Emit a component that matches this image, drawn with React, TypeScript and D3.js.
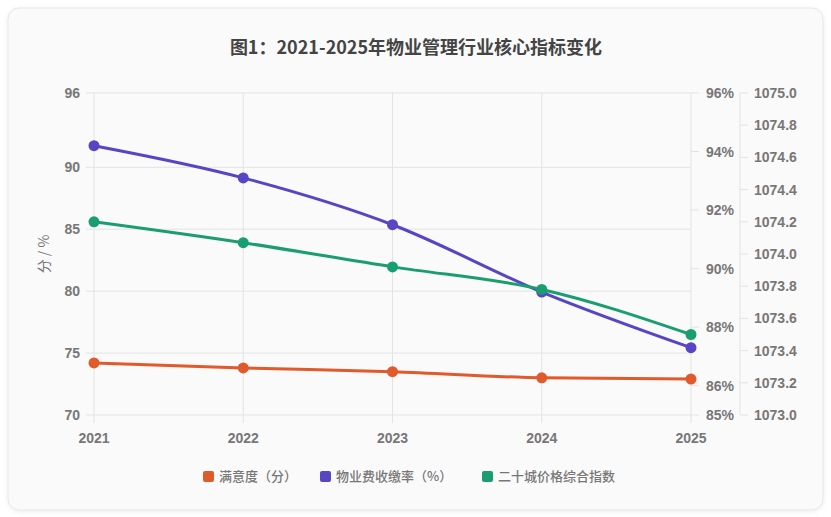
import React, { useRef, useEffect } from "react";
import * as d3 from "d3";

const years = ["2021", "2022", "2023", "2024", "2025"];
const satisfaction = [74.2, 73.8, 73.5, 73.0, 72.9];
const collectionRate = [94.2, 93.1, 91.5, 89.2, 87.3];
const priceIndex = [1074.2, 1074.07, 1073.92, 1073.78, 1073.5];

const leftTicks = [70, 75, 80, 85, 90, 96];
const pctTicks = [85, 86, 88, 90, 92, 94, 96];
const idxTicks = [1073.0, 1073.2, 1073.4, 1073.6, 1073.8, 1074.0, 1074.2, 1074.4, 1074.6, 1074.8, 1075.0];

const seriesNames = ["满意度（分）", "物业费收缴率（%）", "二十城价格综合指数"];
const seriesColors = ["#e05a2b", "#5645c4", "#1a9e70"];

const W = 831;
const H = 517;
const FONT = "'Noto Sans CJK SC', 'Liberation Sans', Arial, sans-serif";
const NUM_FONT = "'Liberation Sans', Arial, sans-serif";

export default function App() {
  const svgRef = useRef<SVGSVGElement>(null);

  useEffect(() => {
    if (!svgRef.current) return;
    const svg = d3.select(svgRef.current);
    svg.selectAll("*").remove();

    const left = 94;
    const right = 691;
    const top = 93;
    const bottom = 415;
    const axis3X = 740;

    const x = d3.scalePoint<string>().domain(years).range([left, right]);
    const yL = d3.scaleLinear().domain([70, 96]).range([bottom, top]);
    const yP = d3.scaleLinear().domain([85, 96]).range([bottom, top]);
    const yI = d3.scaleLinear().domain([1073, 1075]).range([bottom, top]);

    // card
    const defs = svg.append("defs");
    const f = defs.append("filter").attr("id", "sh").attr("x", "-5%").attr("y", "-5%").attr("width", "110%").attr("height", "110%");
    f.append("feDropShadow").attr("dx", 0).attr("dy", 1).attr("stdDeviation", 2).attr("flood-color", "#000").attr("flood-opacity", 0.08);
    svg.append("rect")
      .attr("x", 8).attr("y", 8).attr("width", 815).attr("height", 502)
      .attr("rx", 11)
      .attr("fill", "#fafafa")
      .attr("stroke", "#e6e6e6")
      .attr("filter", "url(#sh)");

    svg.append("text")
      .attr("x", 416).attr("y", 54)
      .attr("text-anchor", "middle")
      .attr("font-family", FONT)
      .attr("font-size", 18)
      .attr("font-weight", 700)
      .attr("fill", "#444")
      .text("图1：2021-2025年物业管理行业核心指标变化");

    const grid = "#e3e3e3";
    const g = svg.append("g");

    // horizontal grid (left axis)
    g.selectAll(".hg").data(leftTicks).enter().append("line")
      .attr("x1", left - 8).attr("x2", right)
      .attr("y1", (d) => yL(d)).attr("y2", (d) => yL(d))
      .attr("stroke", grid).attr("stroke-width", 1);

    // vertical grid
    g.selectAll(".vg").data(years).enter().append("line")
      .attr("x1", (d) => x(d)!).attr("x2", (d) => x(d)!)
      .attr("y1", top).attr("y2", bottom + 8)
      .attr("stroke", grid).attr("stroke-width", 1);

    const tickColor = "#777";
    const tickFont = 14;

    g.selectAll(".lt").data(leftTicks).enter().append("text")
      .attr("x", left - 14).attr("y", (d) => yL(d) + 5)
      .attr("text-anchor", "end")
      .attr("font-family", NUM_FONT).attr("font-size", tickFont).attr("font-weight", 600).attr("fill", tickColor)
      .text((d) => d);

    g.selectAll(".xt").data(years).enter().append("text")
      .attr("x", (d) => x(d)!).attr("y", bottom + 28)
      .attr("text-anchor", "middle")
      .attr("font-family", NUM_FONT).attr("font-size", tickFont).attr("font-weight", 600).attr("fill", tickColor)
      .text((d) => d);

    svg.append("text")
      .attr("transform", `translate(49,254) rotate(-90)`)
      .attr("text-anchor", "middle")
      .attr("font-family", FONT).attr("font-size", 14).attr("fill", tickColor)
      .text("分 / %");

    // right axis (%)
    g.selectAll(".pt").data(pctTicks).enter().append("line")
      .attr("x1", right).attr("x2", right + 8)
      .attr("y1", (d) => yP(d)).attr("y2", (d) => yP(d))
      .attr("stroke", grid);
    g.selectAll(".ptl").data(pctTicks).enter().append("text")
      .attr("x", right + 15).attr("y", (d) => yP(d) + 5)
      .attr("font-family", NUM_FONT).attr("font-size", tickFont).attr("font-weight", 600).attr("fill", tickColor)
      .text((d) => `${d}%`);

    // third axis (index)
    g.append("line")
      .attr("x1", axis3X).attr("x2", axis3X).attr("y1", top).attr("y2", bottom)
      .attr("stroke", grid);
    g.selectAll(".it").data(idxTicks).enter().append("line")
      .attr("x1", axis3X).attr("x2", axis3X + 8)
      .attr("y1", (d) => yI(d)).attr("y2", (d) => yI(d))
      .attr("stroke", grid);
    g.selectAll(".itl").data(idxTicks).enter().append("text")
      .attr("x", axis3X + 14).attr("y", (d) => yI(d) + 5)
      .attr("font-family", NUM_FONT).attr("font-size", tickFont).attr("font-weight", 600).attr("fill", tickColor)
      .text((d) => d.toFixed(1));

    const series = [
      { values: satisfaction, y: yL },
      { values: collectionRate, y: yP },
      { values: priceIndex, y: yI },
    ];

    series.forEach((s, si) => {
      const line = d3.line<number>()
        .x((_, i) => x(years[i])!)
        .y((d) => s.y(d))
        .curve(d3.curveMonotoneX);
      svg.append("path")
        .attr("d", line(s.values))
        .attr("fill", "none")
        .attr("stroke", seriesColors[si])
        .attr("stroke-width", 3);
      svg.selectAll(`.pt${si}`).data(s.values).enter().append("circle")
        .attr("cx", (_, i) => x(years[i])!)
        .attr("cy", (d) => s.y(d))
        .attr("r", 5.5)
        .attr("fill", seriesColors[si]);
    });

    // legend
    const legendX = [203, 320, 482];
    const lg = svg.append("g");
    seriesNames.forEach((name, i) => {
      lg.append("rect")
        .attr("x", legendX[i]).attr("y", 471)
        .attr("width", 11).attr("height", 11).attr("rx", 2)
        .attr("fill", seriesColors[i]);
      lg.append("text")
        .attr("x", legendX[i] + 16).attr("y", 481)
        .attr("font-family", FONT).attr("font-size", 13).attr("font-weight", 500).attr("fill", tickColor)
        .text(name);
    });
  }, []);

  return (
    <div style={{ position: "absolute", left: 0, top: 0, width: W, height: H, background: "#fff" }}>
      <svg ref={svgRef} width={W} height={H} viewBox={`0 0 ${W} ${H}`} />
    </div>
  );
}
